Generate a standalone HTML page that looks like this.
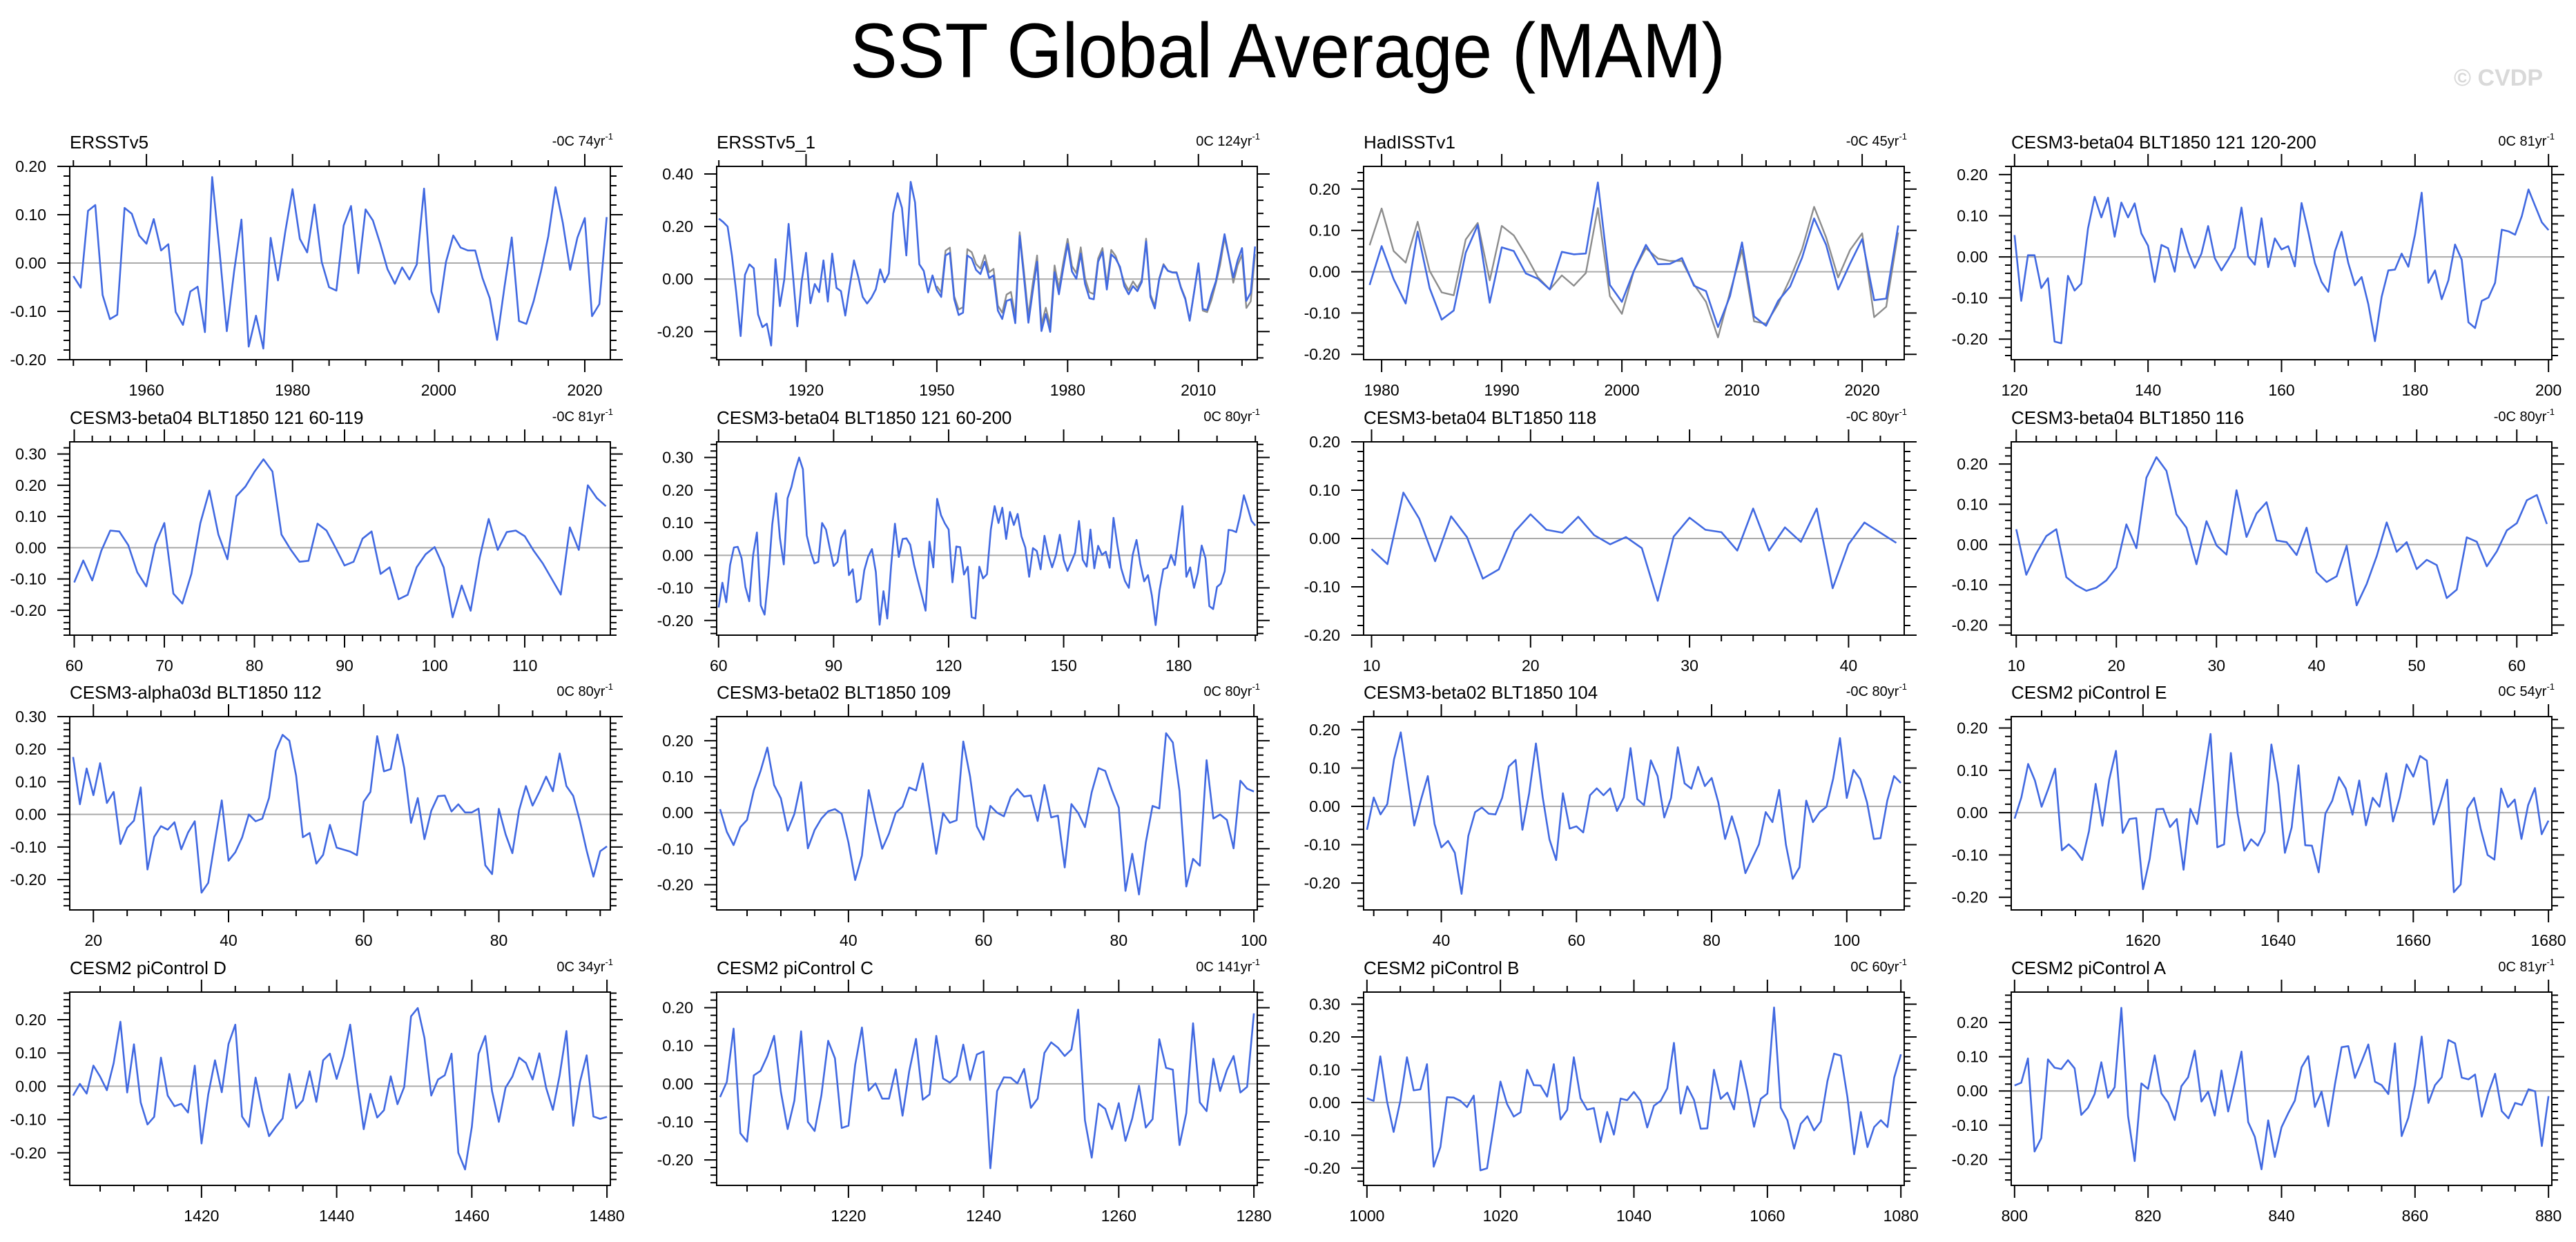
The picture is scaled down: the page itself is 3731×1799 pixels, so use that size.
<!DOCTYPE html>
<html><head><meta charset="utf-8"><title>SST Global Average (MAM)</title>
<style>
html,body{margin:0;padding:0;background:#fff;}
svg{display:block;font-family:"Liberation Sans",sans-serif;}
</style></head>
<body>
<svg id="chart" xmlns="http://www.w3.org/2000/svg" width="3731" height="1799" viewBox="0 0 3731 1799">
<rect x="0" y="0" width="3731" height="1799" fill="#fff"/>
<text x="1865" y="112" text-anchor="middle" font-size="112" textLength="1268" lengthAdjust="spacingAndGlyphs" fill="#000">SST Global Average (MAM)</text>
<text x="3683" y="124" text-anchor="end" font-size="34" font-weight="bold" fill="#d9d9d9">© CVDP</text>
<g id="panels"></g>
</svg>
<script>
const ersstv5 = [-0.027,-0.051,0.108,0.12,-0.066,-0.116,-0.107,0.114,0.102,0.057,0.040,0.091,0.026,0.039,-0.101,-0.128,-0.059,-0.049,-0.143,0.178,0.026,-0.141,-0.017,0.09,-0.173,-0.109,-0.177,0.052,-0.036,0.064,0.153,0.05,0.022,0.121,0.002,-0.05,-0.057,0.078,0.118,-0.021,0.111,0.088,0.04,-0.013,-0.043,-0.009,-0.034,-0.003,0.154,-0.059,-0.102,0.002,0.057,0.032,0.026,0.026,-0.031,-0.073,-0.159,-0.05,0.053,-0.12,-0.126,-0.079,-0.017,0.055,0.157,0.083,-0.014,0.053,0.093,-0.11,-0.085,0.095];
const ersstv5_1 = [0.23,0.217,0.2,0.09,-0.052,-0.217,0.016,0.056,0.041,-0.135,-0.183,-0.17,-0.253,0.076,-0.103,-0.002,0.21,0.016,-0.18,-0.009,0.1,-0.092,-0.019,-0.05,0.071,-0.086,0.097,-0.034,-0.046,-0.139,-0.029,0.071,0.007,-0.068,-0.093,-0.071,-0.039,0.037,-0.012,0.022,0.25,0.327,0.271,0.09,0.37,0.292,0.056,0.031,-0.051,0.014,-0.042,-0.068,0.09,0.1,-0.077,-0.137,-0.128,0.09,0.078,0.035,0.019,0.066,0.004,0.014,-0.12,-0.152,-0.083,-0.077,-0.168,0.165,0.004,-0.166,-0.046,0.066,-0.198,-0.133,-0.201,0.026,-0.058,0.041,0.134,0.029,0.001,0.097,-0.019,-0.073,-0.077,0.066,0.103,-0.04,0.094,0.078,0.047,-0.027,-0.058,-0.027,-0.046,-0.011,0.143,-0.068,-0.112,-0.002,0.053,0.031,0.025,0.024,-0.034,-0.077,-0.158,-0.052,0.06,-0.114,-0.118,-0.058,-0.009,0.078,0.171,0.084,0.006,0.072,0.118,-0.083,-0.052,0.124];
const hadisstv1 = [-0.032,0.062,-0.018,-0.077,0.097,-0.04,-0.116,-0.094,0.046,0.113,-0.075,0.059,0.05,-0.004,-0.017,-0.043,0.048,0.042,0.044,0.216,-0.032,-0.073,0.002,0.065,0.018,0.019,0.033,-0.034,-0.047,-0.134,-0.059,0.071,-0.108,-0.131,-0.071,-0.036,0.034,0.129,0.065,-0.043,0.02,0.079,-0.069,-0.065,0.112];
const b04_121_120_200 = [0.053,-0.107,0.004,0.004,-0.076,-0.052,-0.206,-0.21,-0.046,-0.082,-0.065,0.069,0.146,0.096,0.144,0.049,0.132,0.096,0.13,0.057,0.027,-0.061,0.029,0.021,-0.036,0.069,0.013,-0.027,0.008,0.075,-0.003,-0.033,-0.007,0.022,0.12,0.001,-0.019,0.094,-0.025,0.045,0.018,0.026,-0.023,0.131,0.061,-0.015,-0.061,-0.085,0.013,0.061,-0.015,-0.069,-0.049,-0.115,-0.205,-0.097,-0.033,-0.031,0.008,-0.024,0.054,0.156,-0.063,-0.033,-0.103,-0.057,0.03,-0.007,-0.159,-0.173,-0.107,-0.099,-0.063,0.066,0.062,0.054,0.099,0.164,0.124,0.084,0.065];
const b04_121_60_119 = [-0.111,-0.041,-0.105,-0.01,0.055,0.052,0.008,-0.079,-0.124,0.01,0.079,-0.147,-0.179,-0.084,0.079,0.183,0.042,-0.037,0.165,0.196,0.243,0.283,0.244,0.042,-0.005,-0.045,-0.042,0.077,0.055,0,-0.057,-0.045,0.029,0.052,-0.084,-0.063,-0.165,-0.151,-0.063,-0.021,0.002,-0.063,-0.223,-0.121,-0.202,-0.031,0.092,-0.007,0.05,0.055,0.037,-0.01,-0.05,-0.1,-0.15,0.065,-0.007,0.2,0.159,0.133];
const b04_121_60_200 = [-0.16,-0.084,-0.144,-0.03,0.024,0.026,-0.009,-0.097,-0.141,0.001,0.07,-0.154,-0.182,-0.061,0.094,0.19,0.053,-0.028,0.175,0.21,0.26,0.3,0.264,0.061,0.011,-0.025,-0.02,0.099,0.079,0.022,-0.033,-0.02,0.053,0.077,-0.061,-0.043,-0.144,-0.134,-0.046,-0.004,0.019,-0.051,-0.213,-0.11,-0.194,-0.032,0.097,-0.005,0.05,0.052,0.032,-0.03,-0.078,-0.123,-0.17,0.042,-0.037,0.173,0.123,0.098,0.079,-0.083,0.027,0.025,-0.059,-0.035,-0.19,-0.194,-0.035,-0.071,-0.058,0.079,0.151,0.099,0.146,0.05,0.133,0.093,0.127,0.058,0.024,-0.066,0.022,0.013,-0.043,0.06,0.001,-0.037,0.001,0.063,-0.014,-0.048,-0.02,0.008,0.105,-0.014,-0.035,0.079,-0.04,0.029,0.001,0.011,-0.038,0.115,0.032,-0.04,-0.079,-0.1,0.001,0.047,-0.026,-0.08,-0.061,-0.123,-0.214,-0.108,-0.043,-0.038,0.001,-0.03,0.063,0.151,-0.066,-0.037,-0.1,-0.054,0.03,-0.009,-0.156,-0.165,-0.097,-0.087,-0.049,0.078,0.076,0.071,0.12,0.184,0.146,0.105,0.091];
const b04_118 = [-0.022,-0.053,0.095,0.041,-0.047,0.046,0.003,-0.083,-0.064,0.014,0.05,0.018,0.012,0.045,0.007,-0.012,0.003,-0.02,-0.129,0.004,0.043,0.018,0.013,-0.025,0.062,-0.025,0.023,-0.007,0.062,-0.103,-0.012,0.033,0.012,-0.009];
const b04_116 = [0.038,-0.075,-0.022,0.021,0.038,-0.081,-0.101,-0.115,-0.107,-0.089,-0.057,0.05,-0.009,0.166,0.217,0.183,0.075,0.042,-0.049,0.058,-0.002,-0.025,0.135,0.019,0.077,0.105,0.01,0.006,-0.026,0.042,-0.069,-0.093,-0.079,-0.003,-0.151,-0.098,-0.029,0.055,-0.018,0.006,-0.061,-0.038,-0.051,-0.133,-0.112,0.018,0.007,-0.054,-0.017,0.035,0.053,0.11,0.123,0.051];
const a03d_112 = [0.176,0.031,0.141,0.059,0.157,0.035,0.069,-0.091,-0.041,-0.019,0.083,-0.169,-0.069,-0.036,-0.047,-0.024,-0.107,-0.056,-0.021,-0.24,-0.21,-0.081,0.043,-0.142,-0.116,-0.071,0,-0.021,-0.013,0.051,0.195,0.244,0.226,0.119,-0.07,-0.057,-0.151,-0.124,-0.032,-0.102,-0.108,-0.114,-0.125,0.039,0.069,0.24,0.132,0.139,0.245,0.142,-0.026,0.05,-0.076,0.011,0.056,0.058,0.009,0.031,0.006,0.006,0.018,-0.156,-0.183,0.017,-0.061,-0.119,0.013,0.087,0.027,0.069,0.116,0.071,0.187,0.087,0.057,-0.021,-0.111,-0.191,-0.113,-0.098];
const b02_109 = [0.01,-0.053,-0.09,-0.04,-0.02,0.062,0.116,0.181,0.077,0.04,-0.05,-0.003,0.085,-0.099,-0.048,-0.016,0.004,0.01,-0.003,-0.083,-0.187,-0.119,0.063,-0.023,-0.1,-0.058,0,0.017,0.07,0.062,0.137,0.012,-0.114,-0.001,-0.028,-0.021,0.198,0.101,-0.038,-0.075,0.019,0,-0.01,0.044,0.066,0.045,0.048,-0.023,0.077,-0.013,-0.008,-0.152,0.024,-0.001,-0.04,0.057,0.124,0.116,0.062,0.014,-0.217,-0.114,-0.227,-0.083,0.019,0.012,0.221,0.195,0.06,-0.205,-0.128,-0.147,0.146,-0.016,-0.005,-0.02,-0.099,0.089,0.067,0.059];
const b02_104 = [-0.061,0.023,-0.021,0.006,0.122,0.193,0.071,-0.05,0.018,0.079,-0.046,-0.107,-0.09,-0.121,-0.228,-0.077,-0.015,-0.003,-0.019,-0.021,0.022,0.104,0.121,-0.061,0.034,0.164,0.024,-0.086,-0.14,0.034,-0.058,-0.052,-0.068,0.029,0.047,0.029,0.047,-0.012,0.023,0.152,0.019,0.003,0.12,0.079,-0.029,0.022,0.154,0.06,0.046,0.103,0.053,0.074,0.01,-0.085,-0.026,-0.085,-0.174,-0.136,-0.099,-0.015,-0.041,0.043,-0.1,-0.189,-0.159,0.015,-0.041,-0.015,-0.001,0.073,0.178,0.022,0.095,0.071,0.01,-0.085,-0.083,0.015,0.079,0.061];
const pic_e = [-0.014,0.036,0.115,0.076,0.014,0.057,0.104,-0.089,-0.075,-0.09,-0.112,-0.044,0.068,-0.031,0.078,0.146,-0.048,-0.015,-0.013,-0.181,-0.109,0.008,0.009,-0.034,-0.015,-0.135,0.009,-0.027,0.078,0.186,-0.082,-0.075,0.141,-0.002,-0.09,-0.063,-0.078,-0.045,0.161,0.068,-0.095,-0.035,0.112,-0.077,-0.078,-0.141,-0.002,0.028,0.084,0.057,-0.005,0.076,-0.03,0.035,0.014,0.093,-0.021,0.036,0.114,0.085,0.134,0.123,-0.028,0.021,0.078,-0.188,-0.17,0.01,0.035,-0.04,-0.1,-0.111,0.057,0.013,0.031,-0.062,0.018,0.058,-0.051,-0.019];
const pic_d = [-0.028,0.007,-0.022,0.062,0.029,-0.012,0.069,0.194,-0.019,0.126,-0.049,-0.115,-0.092,0.086,-0.028,-0.06,-0.053,-0.079,0.062,-0.172,-0.025,0.078,-0.018,0.127,0.185,-0.091,-0.122,0.026,-0.074,-0.15,-0.122,-0.097,0.037,-0.066,-0.042,0.045,-0.047,0.078,0.098,0.022,0.09,0.185,0.02,-0.129,-0.023,-0.094,-0.072,0.03,-0.054,-0.002,0.21,0.235,0.145,-0.028,0.02,0.033,0.098,-0.2,-0.25,-0.122,0.097,0.151,-0.015,-0.107,-0.004,0.029,0.086,0.07,0.02,0.099,-0.005,-0.071,0.033,0.166,-0.119,0.013,0.093,-0.091,-0.098,-0.092];
const pic_c = [-0.035,0.005,0.145,-0.13,-0.152,0.022,0.034,0.073,0.126,-0.021,-0.119,-0.044,0.138,-0.1,-0.124,-0.03,0.113,0.067,-0.116,-0.11,0.05,0.148,-0.018,0.001,-0.039,-0.039,0.038,-0.084,0.033,0.118,-0.042,-0.028,0.126,0.014,0.003,0.02,0.103,0.01,0.077,0.085,-0.222,-0.019,0.017,0.016,0.001,0.039,-0.063,-0.039,0.081,0.109,0.095,0.073,0.09,0.195,-0.096,-0.194,-0.052,-0.066,-0.119,-0.051,-0.15,-0.091,-0.005,-0.115,-0.093,0.117,0.042,0.037,-0.161,-0.077,0.159,-0.049,-0.072,0.066,-0.019,0.036,0.073,-0.023,-0.008,0.185];
const pic_b = [0.013,0.005,0.141,0.005,-0.09,0.005,0.138,0.037,0.04,0.117,-0.196,-0.136,0.016,0.015,0.005,-0.014,0.021,-0.207,-0.201,-0.071,0.064,-0.005,-0.043,-0.03,0.1,0.053,0.052,0.018,0.117,-0.052,-0.023,0.138,0.013,-0.022,-0.017,-0.121,-0.029,-0.098,0.012,0.007,0.032,0.005,-0.076,-0.01,0.005,0.043,0.182,-0.034,0.049,0.008,-0.08,-0.079,0.1,0.011,0.03,-0.021,0.127,0.034,-0.074,0.011,0.027,0.29,-0.016,-0.054,-0.141,-0.065,-0.042,-0.085,-0.058,0.065,0.149,0.143,0.016,-0.158,-0.029,-0.136,-0.075,-0.054,-0.075,0.076,0.147];
const pic_a = [0.016,0.024,0.095,-0.177,-0.138,0.092,0.068,0.064,0.09,0.066,-0.07,-0.049,-0.009,0.084,-0.02,0.011,0.243,-0.073,-0.205,0.022,0.006,0.104,-0.007,-0.034,-0.085,0.014,0.04,0.118,-0.031,-0.002,-0.072,0.06,-0.06,0.024,0.115,-0.091,-0.134,-0.229,-0.086,-0.193,-0.106,-0.065,-0.028,0.069,0.102,-0.047,-0.002,-0.103,0.019,0.128,0.131,0.038,0.086,0.136,0.027,0.017,-0.009,0.139,-0.132,-0.078,0.016,0.159,-0.035,0.017,0.04,0.149,0.139,0.039,0.034,0.048,-0.075,-0.005,0.05,-0.059,-0.08,-0.035,-0.041,0.005,-0.001,-0.161,-0.015];

const panelTitles = ["ERSSTv5","ERSSTv5_1","HadISSTv1","CESM3-beta04 BLT1850 121 120-200","CESM3-beta04 BLT1850 121 60-119","CESM3-beta04 BLT1850 121 60-200","CESM3-beta04 BLT1850 118","CESM3-beta04 BLT1850 116","CESM3-alpha03d BLT1850 112","CESM3-beta02 BLT1850 109","CESM3-beta02 BLT1850 104","CESM2 piControl E","CESM2 piControl D","CESM2 piControl C","CESM2 piControl B","CESM2 piControl A"];
const trendLabels = ["-0C 74yr","0C 124yr","-0C 45yr","0C 81yr","-0C 81yr","0C 80yr","-0C 80yr","-0C 80yr","0C 80yr","0C 80yr","-0C 80yr","0C 54yr","0C 34yr","0C 141yr","0C 60yr","0C 81yr"];
const seriesList = [ersstv5,ersstv5_1,hadisstv1,b04_121_120_200,b04_121_60_119,b04_121_60_200,b04_118,b04_116,a03d_112,b02_109,b02_104,pic_e,pic_d,pic_c,pic_b,pic_a];
const startYears = [1950,1900,1979,120,60,60,10,10,17,21,29,1601,1401,1201,1000,800];
const yMins = [-0.2,-0.307,-0.213,-0.25,-0.28,-0.245,-0.2,-0.225,-0.293,-0.27,-0.27,-0.23,-0.298,-0.267,-0.253,-0.276];
const yMaxs = [0.2,0.429,0.255,0.22,0.339,0.348,0.2,0.255,0.30,0.267,0.234,0.227,0.283,0.241,0.337,0.289];
const xMajorSteps = [20,30,10,20,10,30,10,10,20,20,20,20,20,20,20,20];
const xMinorSteps = [5,10,2,5,2,10,2,2,5,5,5,5,5,5,5,5];
const yMajorSteps = [0.1,0.2,0.1,0.1,0.1,0.1,0.1,0.1,0.1,0.1,0.1,0.1,0.1,0.1,0.1,0.1];
const yMinorSteps = [0.02,0.05,0.02,0.02,0.02,0.02,0.02,0.02,0.02,0.02,0.02,0.02,0.02,0.02,0.02,0.02];
const graySeries = [null,ersstv5,ersstv5,null,null,null,null,null,null,null,null,null,null,null,null,null];
const grayStarts = [0,1950,1950,0,0,0,0,0,0,0,0,0,0,0,0,0];

const NS = "http://www.w3.org/2000/svg";
const PW = 783, PH = 280;
const lefts = [101,1038,1975,2913];
const tops = [241,640,1038,1437];
const root = document.getElementById('panels');

function mk(tag, attrs, parent){
  const e = document.createElementNS(NS, tag);
  for (const k in attrs) e.setAttribute(k, attrs[k]);
  parent.appendChild(e);
  return e;
}
function eps(v){ return Math.round(v*1e6)/1e6; }

seriesList.forEach(function(data, i){
  const col = i % 4, row = Math.floor(i / 4);
  const x0 = lefts[col], y0 = tops[row];
  const xmin = startYears[i] - 0.5, xmax = startYears[i] + data.length - 0.5;
  const ymin = yMins[i], ymax = yMaxs[i];
  const sx = v => x0 + (v - xmin) / (xmax - xmin) * PW;
  const sy = v => y0 + (ymax - v) / (ymax - ymin) * PH;

  const g = mk('g', {}, root);
  
  

  const title = mk('text', {x: x0, y: y0 - 26, 'font-size': 26, fill: '#000'}, g);
  title.textContent = panelTitles[i];
  
  

  const tr = mk('text', {x: x0 + PW + 4, y: y0 - 30, 'font-size': 20, 'text-anchor': 'end', fill: '#000'}, g);
  
  
  const t1 = mk('tspan', {}, tr); t1.textContent = trendLabels[i];
  const t2 = mk('tspan', {'font-size': 13, dy: -9}, tr); t2.textContent = '-1';

  const ticks = mk('g', {stroke: '#000', 'stroke-width': 2}, g);
  
  
  let d = '';
  const xmj = xMajorSteps[i], xmn = xMinorSteps[i];
  for (let v = Math.ceil(xmin / xmn) * xmn; v <= xmax; v += xmn) {
    const isMaj = eps(v / xmj) === Math.round(v / xmj);
    const L = isMaj ? 18 : 9, px = sx(v);
    d += 'M' + px + ' ' + y0 + 'v' + (-L) + 'M' + px + ' ' + (y0 + PH) + 'v' + L;
    if (isMaj) {
      const lb = mk('text', {x: px, y: y0 + PH + 52, 'font-size': 23, 'text-anchor': 'middle', fill: '#000', stroke: 'none'}, g);
      lb.textContent = String(v);
      
      
    }
  }
  const ymj = yMajorSteps[i], ymn = yMinorSteps[i];
  const kStart = Math.ceil(eps(ymin / ymn)), kEnd = Math.floor(eps(ymax / ymn));
  for (let k = kStart; k <= kEnd; k++) {
    const v = k * ymn;
    const r = v / ymj;
    const isMaj = Math.abs(r - Math.round(r)) < 1e-6;
    const L = isMaj ? 18 : 9, py = sy(v);
    d += 'M' + x0 + ' ' + py + 'h' + (-L) + 'M' + (x0 + PW) + ' ' + py + 'h' + L;
    if (isMaj) {
      const vv = Math.round(r) * ymj;
      const lb = mk('text', {x: x0 - 34, y: py + 8, 'font-size': 23, 'text-anchor': 'end', fill: '#000'}, g);
      lb.textContent = (Math.abs(vv) < 1e-9 ? 0 : vv).toFixed(2);
      
      
    }
  }
  mk('path', {d: d}, ticks);

  const zero = mk('line', {x1: x0, x2: x0 + PW, y1: sy(0), y2: sy(0), stroke: '#aaaaaa', 'stroke-width': 2}, g);
  
  

  const gs = graySeries[i];
  if (gs) {
    const off = grayStarts[i];
    const first = Math.max(startYears[i], off);
    let gp = '';
    gs.forEach(function(v, j){
      const yr = off + j;
      if (yr < first || yr > xmax) return;
      gp += (gp ? 'L' : 'M') + sx(yr).toFixed(1) + ' ' + sy(v).toFixed(1);
    });
    const gl = mk('path', {d: gp, fill: 'none', stroke: '#8c8c8c', 'stroke-width': 2.4, 'stroke-linejoin': 'round'}, g);
    
    
  }

  let p = '';
  data.forEach(function(v, j){
    p += (j ? 'L' : 'M') + sx(startYears[i] + j).toFixed(1) + ' ' + sy(v).toFixed(1);
  });
  const ln = mk('path', {d: p, fill: 'none', stroke: '#4169e1', 'stroke-width': 2.6, 'stroke-linejoin': 'round'}, g);
  
  

  const fr = mk('rect', {x: x0, y: y0, width: PW, height: PH, fill: 'none', stroke: '#000', 'stroke-width': 2}, g);
  
  
});
</script>
</body></html>
